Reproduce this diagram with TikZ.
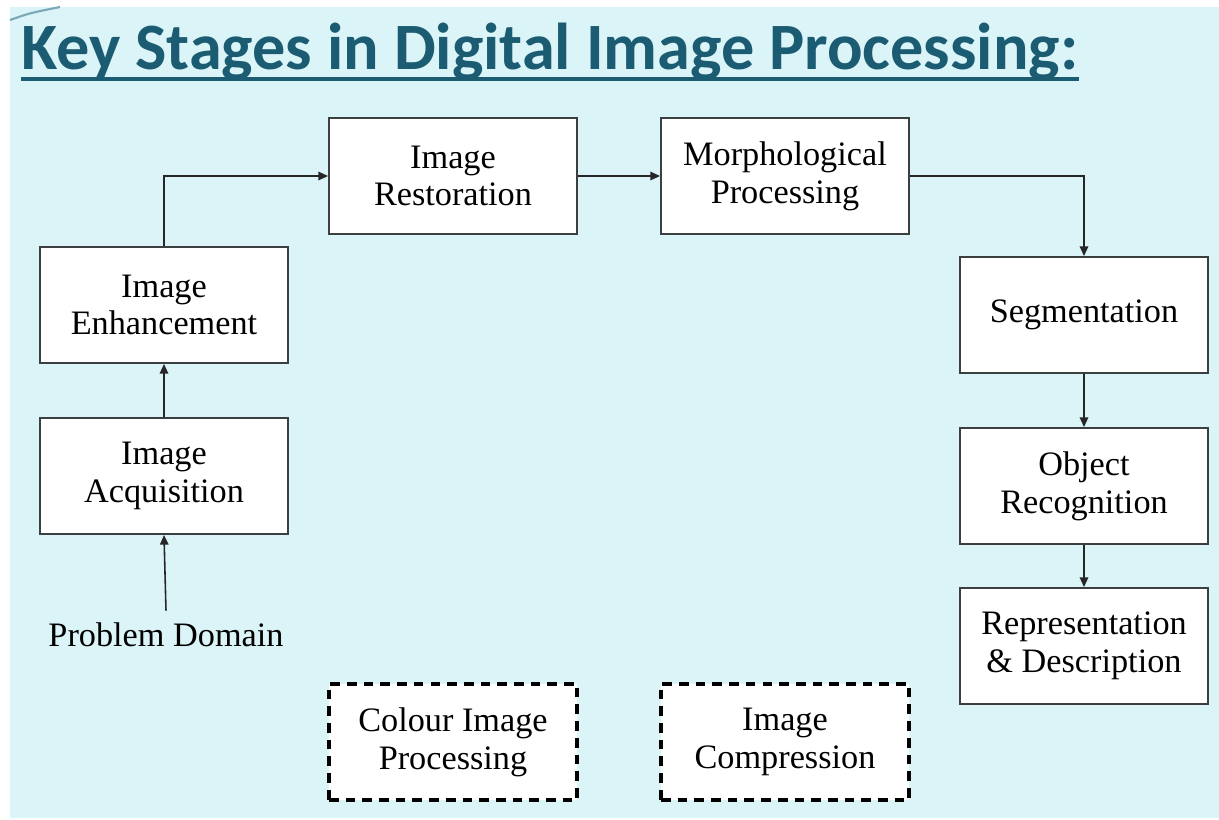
\documentclass[tikz,border=0pt]{standalone}
\usepackage{fontspec}
\setmainfont{Liberation Serif}
\newfontfamily\titlefont{Carlito}
\usetikzlibrary{arrows.meta, calc}
\definecolor{sky}{HTML}{DAF4F8}
\definecolor{heading}{HTML}{1B5C73}
\definecolor{frameGray}{HTML}{3C3F40}
\newcommand{\boxWidth}{4.96cm}
\newcommand{\boxHeight}{2.32cm}
\newcommand{\arrowTip}{{Triangle[length=5.5pt, width=4.8pt]}}
\tikzstyle{stage}=[draw=frameGray, fill=white, line width=1.1pt, minimum width=\boxWidth, minimum height=\boxHeight, inner sep=0, align=center, font=\fontsize{19.5pt}{21.5pt}\selectfont]
\tikzstyle{optional}=[stage, draw=black, line width=2pt, dash pattern=on 5.5pt off 4pt]
\tikzstyle{flow}=[draw=black!85, line width=0.9pt, -\arrowTip]

\begin{document}
\begin{tikzpicture}[x=0.02cm, y=-0.02cm]

% Canvas
\useasboundingbox (0,0) rectangle (1219,819);
\fill[white] (0,0) rectangle (1219,819);
\fill[sky] (10,7) rectangle (1219,818);
\draw[heading!50!sky, line width=1.2pt] (10,20) .. controls (30,13) .. (60,7);

% Heading
\node[anchor=base west, inner sep=0, text=heading, font=\titlefont\bfseries\fontsize{37.7pt}{40pt}\selectfont] (title) at (21,69) {Key Stages in Digital Image Processing:};
\draw[heading, line width=2.2pt] ($(title.base west)+(0,10)$) -- ($(title.base east)+(0,10)$);

% Stages
\node[stage] (acquire) at (164,476) {Image\\Acquisition};
\node[stage] (enhance) at (164,305) {Image\\Enhancement};
\node[stage] (restore) at (453,176) {Image\\Restoration};
\node[stage] (morph) at (785,176) {Morphological\\Processing};
\node[stage] (segment) at (1084,315) {Segmentation};
\node[stage] (recog) at (1084,486) {Object\\Recognition};
\node[stage] (repr) at (1084,646) {Representation\\\& Description};
\node[optional] (colour) at (453,742) {Colour Image\\Processing};
\node[optional] (compress) at (785,742) {Image\\Compression};

\node[inner sep=0, outer ysep=7pt, font=\fontsize{19.5pt}{21.5pt}\selectfont] (problem) at (166,635) {Problem Domain};

% Connectors
\draw[flow] (problem.north) -- (acquire.south);
\draw[flow] (acquire) -- (enhance);
\draw[flow] (enhance.north) |- (restore.west);
\draw[flow] (restore) -- (morph);
\draw[flow] (morph.east) -| (segment.north);
\draw[flow] (segment) -- (recog);
\draw[flow] (recog) -- (repr);

\end{tikzpicture}
\end{document}
